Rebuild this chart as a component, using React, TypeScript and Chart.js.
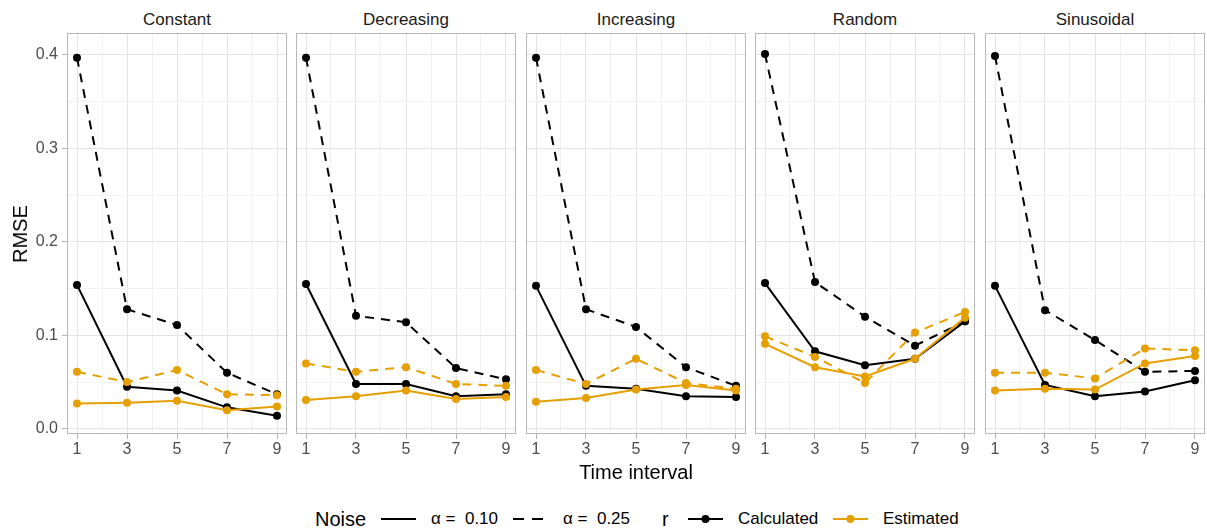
import React, { useEffect, useRef } from 'react';
import { Chart, registerables } from 'chart.js';

Chart.register(...registerables);

const FONT = "'Liberation Sans', Arial, Helvetica, sans-serif";

// ---- data ----
const panelNames = ['Constant', 'Decreasing', 'Increasing', 'Random', 'Sinusoidal'];
const timeIntervals = [1, 3, 5, 7, 9];
const xTicks = [1, 2, 3, 4, 5, 6, 7, 8, 9];
const yTicks = [0, 0.05, 0.1, 0.15, 0.2, 0.25, 0.3, 0.35, 0.4];

const constantCalc010 = [0.154, 0.045, 0.041, 0.023, 0.014];
const constantCalc025 = [0.397, 0.128, 0.111, 0.060, 0.037];
const constantEst010 = [0.027, 0.028, 0.030, 0.020, 0.024];
const constantEst025 = [0.061, 0.050, 0.063, 0.037, 0.036];

const decreasingCalc010 = [0.155, 0.048, 0.048, 0.035, 0.037];
const decreasingCalc025 = [0.397, 0.121, 0.114, 0.065, 0.053];
const decreasingEst010 = [0.031, 0.035, 0.041, 0.032, 0.034];
const decreasingEst025 = [0.070, 0.061, 0.066, 0.048, 0.046];

const increasingCalc010 = [0.153, 0.046, 0.043, 0.035, 0.034];
const increasingCalc025 = [0.397, 0.128, 0.109, 0.066, 0.046];
const increasingEst010 = [0.029, 0.033, 0.042, 0.047, 0.041];
const increasingEst025 = [0.063, 0.048, 0.075, 0.049, 0.043];

const randomCalc010 = [0.156, 0.083, 0.068, 0.075, 0.115];
const randomCalc025 = [0.401, 0.157, 0.120, 0.089, 0.115];
const randomEst010 = [0.091, 0.066, 0.056, 0.075, 0.119];
const randomEst025 = [0.099, 0.077, 0.049, 0.103, 0.125];

const sinusoidalCalc010 = [0.153, 0.047, 0.035, 0.040, 0.052];
const sinusoidalCalc025 = [0.399, 0.127, 0.095, 0.061, 0.062];
const sinusoidalEst010 = [0.041, 0.043, 0.042, 0.070, 0.078];
const sinusoidalEst025 = [0.060, 0.060, 0.054, 0.086, 0.084];

const calc010 = [constantCalc010, decreasingCalc010, increasingCalc010, randomCalc010, sinusoidalCalc010];
const calc025 = [constantCalc025, decreasingCalc025, increasingCalc025, randomCalc025, sinusoidalCalc025];
const est010 = [constantEst010, decreasingEst010, increasingEst010, randomEst010, sinusoidalEst010];
const est025 = [constantEst025, decreasingEst025, increasingEst025, randomEst025, sinusoidalEst025];

// ---- styling / layout ----
const BLACK = '#000000';
const ORANGE = '#E69F00';
const GRID_MAJOR = '#e4e4e4';
const GRID_MINOR = '#f2f2f2';
const BORDER = '#b8b8b8';
const TICK_COLOR = '#b3b3b3';
const TICK_TEXT = '#4d4d4d';

const PANEL_LEFTS = [67, 296, 526, 755, 985];
const PANEL_W = 220;
const PANEL_TOP = 33;
const PANEL_BOTTOM = 434;
const CANVAS_H = 470;
const DASH = [9, 7];

const borderPlugin = {
  id: 'panelBorder',
  afterDraw(chart: any) {
    const { ctx, chartArea } = chart;
    ctx.save();
    ctx.strokeStyle = BORDER;
    ctx.lineWidth = 1;
    ctx.strokeRect(
      Math.round(chartArea.left) + 0.5,
      Math.round(chartArea.top) + 0.5,
      Math.round(chartArea.right - chartArea.left) - 1,
      Math.round(chartArea.bottom - chartArea.top) - 1
    );
    ctx.restore();
  },
};

function toPoints(values: number[]) {
  return timeIntervals.map((x, i) => ({ x, y: values[i] }));
}

function Panel({ index }: { index: number }) {
  const ref = useRef<HTMLCanvasElement | null>(null);
  const yW = index === 0 ? PANEL_LEFTS[0] : 4;
  const left = PANEL_LEFTS[index] - yW;
  const width = yW + PANEL_W + 4;

  useEffect(() => {
    if (!ref.current) return;
    const line = (label: string, values: number[], color: string, dashed: boolean) => ({
      label,
      data: toPoints(values),
      borderColor: color,
      backgroundColor: color,
      pointBackgroundColor: color,
      pointBorderColor: color,
      pointBorderWidth: 0,
      pointRadius: 4,
      borderWidth: 2,
      borderDash: dashed ? DASH : [],
      tension: 0,
      fill: false,
    });
    const chart = new Chart(ref.current, {
      type: 'line',
      data: {
        datasets: [
          line('Estimated α = 0.25', est025[index], ORANGE, true),
          line('Estimated α = 0.10', est010[index], ORANGE, false),
          line('Calculated α = 0.25', calc025[index], BLACK, true),
          line('Calculated α = 0.10', calc010[index], BLACK, false),
        ],
      },
      options: {
        responsive: false,
        animation: false,
        devicePixelRatio: 1,
        layout: { padding: { left: 0, right: 4, top: PANEL_TOP, bottom: 0 } },
        plugins: { legend: { display: false }, tooltip: { enabled: false }, title: { display: false } },
        events: [],
        scales: {
          x: {
            type: 'linear',
            min: 0.6,
            max: 9.4,
            afterBuildTicks: (axis: any) => {
              axis.ticks = xTicks.map((v) => ({ value: v }));
            },
            afterFit: (axis: any) => {
              axis.height = CANVAS_H - PANEL_BOTTOM;
            },
            ticks: {
              autoSkip: false,
              maxRotation: 0,
              padding: 1,
              color: TICK_TEXT,
              font: { family: FONT, size: 16 },
              callback: (v: any) => (v % 2 === 1 ? String(v) : ''),
            },
            grid: {
              color: (c: any) => (c.tick && c.tick.value % 2 === 0 ? GRID_MINOR : GRID_MAJOR),
              lineWidth: 1,
              drawTicks: true,
              tickLength: 5,
              tickColor: (c: any) => (c.tick && c.tick.value % 2 === 0 ? 'rgba(0,0,0,0)' : TICK_COLOR),
            },
            border: { display: false },
          },
          y: {
            type: 'linear',
            min: -0.0055,
            max: 0.4235,
            afterBuildTicks: (axis: any) => {
              axis.ticks = yTicks.map((v) => ({ value: v }));
            },
            afterFit: (axis: any) => {
              axis.width = yW;
            },
            ticks: {
              display: index === 0,
              autoSkip: false,
              padding: 4,
              color: TICK_TEXT,
              font: { family: FONT, size: 16 },
              callback: (v: any) => (Math.round(v * 100) % 10 === 0 ? Number(v).toFixed(1) : ''),
            },
            grid: {
              color: (c: any) => (c.tick && Math.round(c.tick.value * 100) % 10 !== 0 ? GRID_MINOR : GRID_MAJOR),
              lineWidth: 1,
              drawTicks: index === 0,
              tickLength: 5,
              tickColor: (c: any) =>
                c.tick && Math.round(c.tick.value * 100) % 10 !== 0 ? 'rgba(0,0,0,0)' : TICK_COLOR,
            },
            border: { display: false },
          },
        },
      } as any,
      plugins: [borderPlugin],
    });
    return () => chart.destroy();
  }, [index]);

  return (
    <canvas
      ref={ref}
      width={width}
      height={CANVAS_H}
      style={{ position: 'absolute', left, top: 0, width, height: CANVAS_H }}
    />
  );
}

function LegendLine({ left, color, dashed, point }: { left: number; color: string; dashed?: boolean; point?: boolean }) {
  return (
    <svg
      width={35}
      height={20}
      style={{ position: 'absolute', left, top: 509, overflow: 'visible' }}
    >
      <line
        x1={0}
        y1={10}
        x2={35}
        y2={10}
        stroke={color}
        strokeWidth={2.2}
        strokeDasharray={dashed ? '11 8' : undefined}
      />
      {point ? <circle cx={17.5} cy={10} r={4} fill={color} /> : null}
    </svg>
  );
}

const textStyle = (left: number, size: number): React.CSSProperties => ({
  position: 'absolute',
  left,
  top: 519 - (size === 20 ? 12 : 10),
  fontSize: size,
  lineHeight: size === 20 ? '24px' : '20px',
  whiteSpace: 'pre',
  color: '#000',
});

export default function App() {
  return (
    <div
      style={{
        position: 'absolute',
        left: 0,
        top: 0,
        width: 1207,
        height: 530,
        background: '#ffffff',
        fontFamily: FONT,
        overflow: 'hidden',
      }}
    >
      {panelNames.map((name, i) => (
        <div
          key={'t' + i}
          style={{
            position: 'absolute',
            left: PANEL_LEFTS[i],
            width: PANEL_W,
            top: 10,
            lineHeight: '20px',
            fontSize: 17,
            textAlign: 'center',
            color: '#1a1a1a',
          }}
        >
          {name}
        </div>
      ))}
      {panelNames.map((_, i) => (
        <Panel key={'p' + i} index={i} />
      ))}
      <div
        style={{
          position: 'absolute',
          left: 20,
          top: (PANEL_TOP + PANEL_BOTTOM) / 2,
          transform: 'translate(-50%, -50%) rotate(-90deg)',
          fontSize: 20,
          lineHeight: '24px',
          whiteSpace: 'nowrap',
          color: '#000',
        }}
      >
        RMSE
      </div>
      <div
        style={{
          position: 'absolute',
          left: PANEL_LEFTS[0],
          width: PANEL_LEFTS[4] + PANEL_W - PANEL_LEFTS[0],
          top: 460,
          fontSize: 20,
          lineHeight: '24px',
          textAlign: 'center',
          color: '#000',
        }}
      >
        Time interval
      </div>
      <div style={textStyle(315, 20)}>Noise</div>
      <LegendLine left={381} color={BLACK} />
      <div style={textStyle(431, 17)}>{'α =  0.10'}</div>
      <LegendLine left={513} color={BLACK} dashed />
      <div style={textStyle(563, 17)}>{'α =  0.25'}</div>
      <div style={textStyle(662, 20)}>r</div>
      <LegendLine left={688} color={BLACK} point />
      <div style={textStyle(738, 17)}>Calculated</div>
      <LegendLine left={833} color={ORANGE} point />
      <div style={textStyle(883, 17)}>Estimated</div>
    </div>
  );
}
